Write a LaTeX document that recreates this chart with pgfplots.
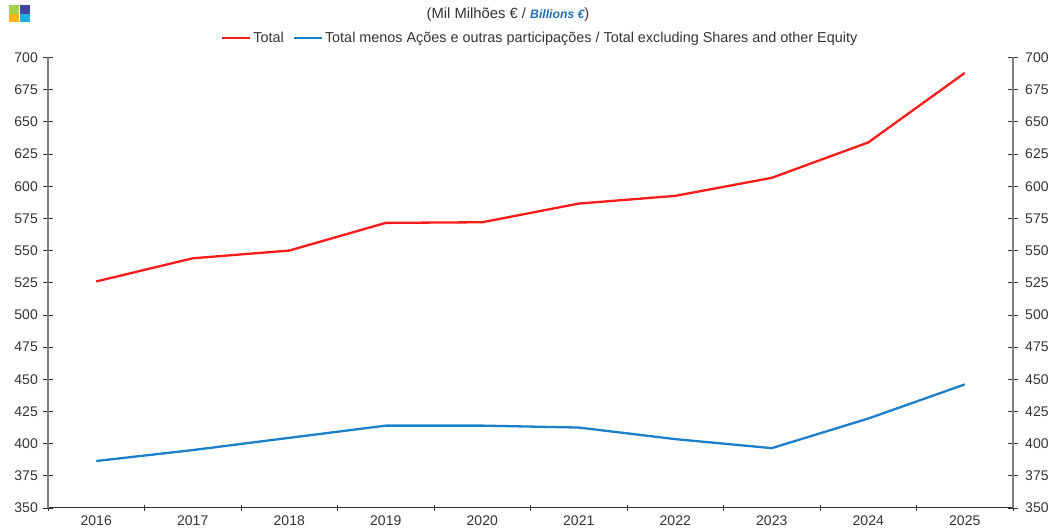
\documentclass[border=0pt]{standalone}
\usepackage{pgfplots}
\pgfplotsset{compat=1.18}
\usepackage{fontspec}
\setmainfont{Liberation Sans}
\definecolor{txt}{HTML}{333333}
\definecolor{axgrey}{HTML}{808080}
\definecolor{redl}{HTML}{FF1A1A}
\definecolor{bluel}{HTML}{1B7FCC}
\definecolor{bil}{HTML}{1F6FB5}
\definecolor{logoa}{HTML}{A4D04A}
\definecolor{logob}{HTML}{3F48A0}
\definecolor{logoc}{HTML}{FDB515}
\definecolor{logod}{HTML}{1FADE4}
\pgfplotsset{
  common/.style={
    scale only axis, width=965bp, height=450.5bp,
    at={(48bp,20bp)}, anchor=south west,
    xmin=-0.5, xmax=9.5, ymin=350, ymax=700,
    ytick={350,375,...,700},
    /pgf/number format/assume math mode=true,
    /pgf/number format/1000 sep={},
    tick label style={font=\fontsize{14bp}{15bp}\selectfont, text=txt},
    tick align=center,
    major tick length=10bp,
    every tick/.style={color=txt, line width=0.8bp},
    yticklabel style={inner sep=0pt},
    separate axis lines,
  }
}
\begin{document}
\begin{tikzpicture}[x=1bp,y=1bp]
\useasboundingbox (0,0) rectangle (1051,528);
% logo
\fill[logoa] (9,514) rectangle (18.5,523);
\fill[logob] (19.5,514) rectangle (30,523);
\fill[logoc] (9,505.5) rectangle (18.5,513.5);
\fill[logod] (19.5,505.5) rectangle (30,513.5);
\node[font=\fontsize{14.8bp}{16bp}\selectfont, text=txt, anchor=center] at (508,513)
  {(Mil Milhões € / {\color{bil}\bfseries\itshape\fontsize{12.2bp}{16bp}\selectfont Billions €})};
\begin{axis}[common,
  axis x line*=bottom, axis y line*=left,
  xtick={0,...,9},
  xticklabels={2016,2017,2018,2019,2020,2021,2022,2023,2024,2025},
  minor xtick={-0.5,0.5,1.5,2.5,3.5,4.5,5.5,6.5,7.5,8.5,9.5},
  x tick style={draw=none},
  minor x tick style={draw=txt, line width=0.8bp},
  minor tick length=6bp,
  xticklabel style={yshift=1bp},
  ytick pos=left,
  y axis line style={draw=axgrey, line width=1.3bp, -},
  x axis line style={draw=txt, line width=1bp, -},
  yticklabel style={xshift=-5bp},
  legend columns=2,
  legend style={draw=none, fill=none, at={(173bp,470bp)}, anchor=west, inner sep=0pt, outer sep=0pt,
     font=\fontsize{14.4bp}{16bp}\selectfont, text=txt,
     /tikz/every even column/.style={column sep=7bp},
     nodes={inner xsep=2bp}},
  legend cell align=left,
  legend image code/.code={\draw[#1, line width=2.3bp] (0bp,0bp) -- (28bp,0bp);},
]
\addplot[redl, line width=2.3bp] coordinates {(0,526)(1,544)(2,550)(3,571.5)(4,572)(5,586.5)(6,592.5)(7,606.5)(8,634)(9,688)};
\addlegendentry{Total}
\addplot[bluel, line width=2.3bp] coordinates {(0,386.5)(1,395)(2,404.5)(3,414)(4,414)(5,412.5)(6,403.5)(7,396.5)(8,419.5)(9,446)};
\addlegendentry{Total menos Ações e outras participações / Total excluding Shares and other Equity}
\end{axis}
\begin{axis}[common,
  axis x line=none, axis y line*=right,
  xtick=\empty,
  y axis line style={draw=axgrey, line width=1.3bp, -},
  yticklabel style={xshift=7bp},
]
\addplot[draw=none] coordinates {(0,350)(9,700)};
\end{axis}
\end{tikzpicture}
\end{document}
